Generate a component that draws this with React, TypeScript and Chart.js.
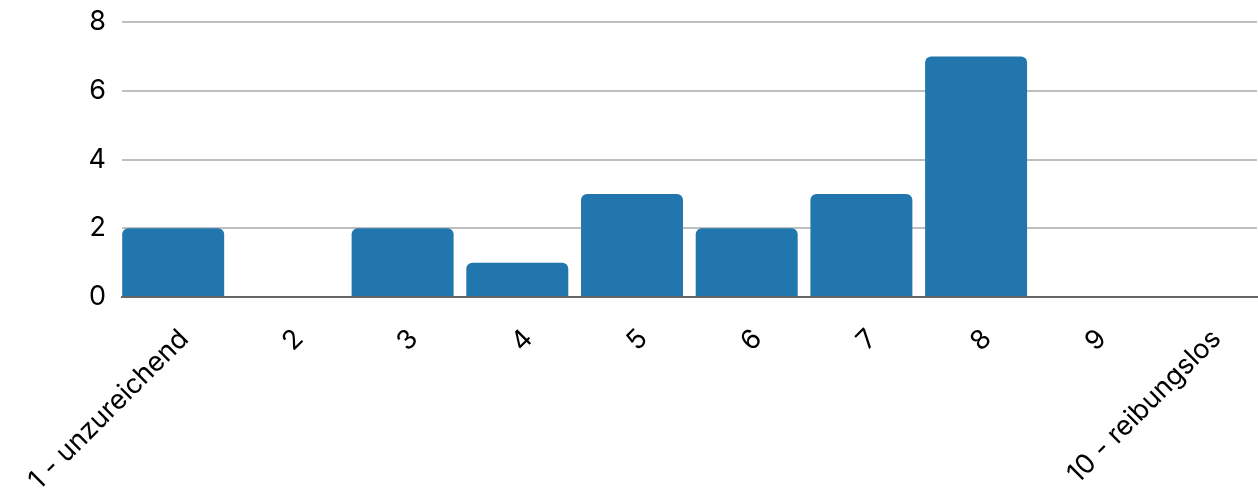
import React, { useEffect, useRef } from "react";
import { Chart, registerables } from "chart.js";

Chart.register(...registerables);

const categories = ["1 - unzureichend", "2", "3", "4", "5", "6", "7", "8", "9", "10 - reibungslos"];
const counts = [2, 0, 2, 1, 3, 2, 3, 7, 0, 0];
const yTicks = [0, 2, 4, 6, 8];

const FONT = "Inter";

export default function App() {
  const ref = useRef<HTMLCanvasElement | null>(null);
  useEffect(() => {
    if (!ref.current) return;
    const points = counts.map((v, i) => ({ x: i, y: v }));
    const chart = new Chart(ref.current, {
      type: "bar",
      data: {
        datasets: [
          {
            data: points,
            backgroundColor: "#2176ae",
            borderRadius: 6,
            barPercentage: 0.889,
            categoryPercentage: 1,
          },
        ],
      },
      options: {
        animation: false,
        responsive: true,
        maintainAspectRatio: false,
        layout: { padding: { top: 22, right: 1, left: 0, bottom: 0 } },
        plugins: { legend: { display: false }, tooltip: { enabled: false } },
        scales: {
          x: {
            type: "linear",
            min: -0.4464,
            max: 9.449,
            offset: false,
            grid: { display: false, drawTicks: false },
            border: { display: true, color: "#666666", width: 2 },
            afterBuildTicks: (s: any) => {
              s.ticks = categories.map((_, i) => ({ value: i }));
            },
            ticks: {
              color: "#000",
              font: { family: FONT, size: 27 },
              minRotation: 45,
              maxRotation: 45,
              autoSkip: false,
              padding: 26,
              labelOffset: 11,
              callback: (v: any) => categories[Number(v)] ?? "",
            },
            afterFit: (s: any) => {
              s.height = 200;
              s.paddingLeft = 0;
              s.paddingRight = 0;
            },
          },
          y: {
            min: yTicks[0],
            max: yTicks[yTicks.length - 1],
            grid: { color: "#bfbfbf", lineWidth: 2, drawTicks: false },
            border: { display: false },
            afterBuildTicks: (s: any) => {
              s.ticks = yTicks.map((v) => ({ value: v }));
            },
            ticks: {
              color: "#000",
              font: { family: FONT, size: 27 },
              padding: 16,
            },
            afterFit: (s: any) => {
              s.width = 122;
              s.paddingTop = 0;
              s.paddingBottom = 0;
            },
          },
        },
      },
    });
    return () => chart.destroy();
  }, []);
  return (
    <div style={{ position: "absolute", left: 0, top: 0, width: 1258, height: 497, overflow: "hidden" }}>
      <canvas ref={ref} />
    </div>
  );
}
